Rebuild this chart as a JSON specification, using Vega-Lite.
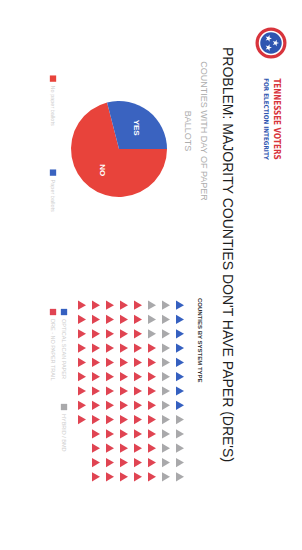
{
  "$schema": "https://vega.github.io/schema/vega-lite/v6.json",
  "background": "#ffffff",
  "padding": {"left": 46, "top": 8, "right": 10, "bottom": 60},
  "config": {"view": {"stroke": null}, "font": "Liberation Sans"},
  "spacing": 20,
  "hconcat": [
    {
      "spacing": 8,
      "title": {"text": "PROBLEM: MAJORITY COUNTIES DON'T HAVE PAPER (DRE'S)", "orient": "right", "anchor": "start", "fontSize": 14, "fontWeight": "normal", "color": "#1e1e1e", "offset": 12, "dx": 39},
      "vconcat": [
        {
          "spacing": 10,
          "hconcat": [
            {
              "width": 14,
              "height": 282,
              "data": {"values": [
                {"label": "No paper ballots", "answer": "NO", "slot": 1},
                {"label": "Paper ballots", "answer": "YES", "slot": 2}
              ]},
              "encoding": {
                "y": {"field": "slot", "type": "ordinal", "scale": {"type": "point", "padding": 1.5435, "align": 0.3756}, "axis": null}
              },
              "layer": [
                {"mark": {"type": "square", "size": 40, "opacity": 1},
                 "encoding": {"color": {"field": "answer", "type": "nominal", "scale": {"domain": ["NO", "YES", "Optical", "Hybrid", "DRE", "name", "tagline"], "range": ["#e8433b", "#3a63c0", "#3560c0", "#a9a9ab", "#e04452", "#d8343c", "#3056b0"]}, "legend": null}}},
                {"mark": {"type": "text", "angle": 90, "align": "left", "baseline": "middle", "dx": 7, "fontSize": 5.5, "color": "#cdcdcd"},
                 "encoding": {"text": {"field": "label"}}}
              ]
            },
            {
              "width": 98,
              "height": 282,
              "title": {"text": ["COUNTIES WITH DAY OF PAPER", "BALLOTS"], "orient": "right", "anchor": "middle", "align": "center", "fontSize": 9, "fontWeight": "normal", "color": "#adadad", "lineHeight": 16, "offset": 15, "dx": -18},
              "data": {"values": [
                {"answer": "NO", "counties": 71},
                {"answer": "YES", "counties": 29}
              ]},
              "encoding": {
                "theta": {"field": "counties", "type": "quantitative", "stack": true, "scale": {"range": [1.5708, 7.854]}},
                "order": {"field": "answer", "type": "ordinal"}
              },
              "layer": [
                {"mark": {"type": "arc", "outerRadius": 48},
                 "encoding": {"color": {"field": "answer", "type": "nominal", "scale": {"domain": ["NO", "YES", "Optical", "Hybrid", "DRE", "name", "tagline"], "range": ["#e8433b", "#3a63c0", "#3560c0", "#a9a9ab", "#e04452", "#d8343c", "#3056b0"]}, "legend": null}}},
                {"mark": {"type": "text", "radius": 27, "angle": 90, "fontSize": 8, "fontWeight": "bold", "align": "center", "baseline": "middle"},
                 "encoding": {"text": {"field": "answer"}, "color": {"value": "#ffffff"}}}
              ]
            }
          ]
        },
        {
          "spacing": 0,
          "hconcat": [
            {
              "width": 29,
              "height": 186,
              "data": {"values": [
                {"label": "DRE - NO PAPER TRAIL", "type": "DRE", "line": 2, "slot": 1},
                {"label": "OPTICAL SCAN PAPER", "type": "Optical", "line": 1, "slot": 1},
                {"label": "HYBRID / BMD", "type": "Hybrid", "line": 1, "slot": 2}
              ]},
              "encoding": {
                "x": {"field": "line", "type": "ordinal", "sort": "descending", "scale": {"type": "point", "padding": 0.818, "align": 0.389}, "axis": null},
                "y": {"field": "slot", "type": "ordinal", "scale": {"type": "point", "padding": 0.479, "align": 0.154}, "axis": null}
              },
              "layer": [
                {"mark": {"type": "square", "size": 40, "opacity": 1},
                 "encoding": {"color": {"field": "type", "type": "nominal", "scale": {"domain": ["NO", "YES", "Optical", "Hybrid", "DRE", "name", "tagline"], "range": ["#e8433b", "#3a63c0", "#3560c0", "#a9a9ab", "#e04452", "#d8343c", "#3056b0"]}, "legend": null}}},
                {"mark": {"type": "text", "angle": 90, "align": "left", "baseline": "middle", "dx": 7, "fontSize": 5.5, "color": "#cdcdcd"},
                 "encoding": {"text": {"field": "label"}}}
              ]
            },
            {
              "width": 112,
              "height": 186,
              "title": {"text": "COUNTIES BY SYSTEM TYPE", "orient": "right", "anchor": "start", "fontSize": 6, "fontWeight": "bold", "color": "#333333", "offset": 10},
              "data": {"values": [
                {"r":1,"c":1,"t":"Optical"},{"r":1,"c":2,"t":"Optical"},{"r":1,"c":3,"t":"Optical"},{"r":1,"c":4,"t":"Optical"},{"r":1,"c":5,"t":"Optical"},{"r":1,"c":6,"t":"Optical"},{"r":1,"c":7,"t":"Optical"},{"r":1,"c":8,"t":"Optical"},{"r":1,"c":9,"t":"Hybrid"},{"r":1,"c":10,"t":"Hybrid"},{"r":1,"c":11,"t":"Hybrid"},{"r":1,"c":12,"t":"Hybrid"},{"r":1,"c":13,"t":"Hybrid"},
                {"r":2,"c":1,"t":"Hybrid"},{"r":2,"c":2,"t":"Hybrid"},{"r":2,"c":3,"t":"Hybrid"},{"r":2,"c":4,"t":"Hybrid"},{"r":2,"c":5,"t":"Hybrid"},{"r":2,"c":6,"t":"Hybrid"},{"r":2,"c":7,"t":"Hybrid"},{"r":2,"c":8,"t":"Hybrid"},{"r":2,"c":9,"t":"Hybrid"},{"r":2,"c":10,"t":"Hybrid"},{"r":2,"c":11,"t":"Hybrid"},{"r":2,"c":12,"t":"Hybrid"},{"r":2,"c":13,"t":"Hybrid"},
                {"r":3,"c":1,"t":"Hybrid"},{"r":3,"c":2,"t":"Hybrid"},{"r":3,"c":3,"t":"Hybrid"},{"r":3,"c":4,"t":"DRE"},{"r":3,"c":5,"t":"DRE"},{"r":3,"c":6,"t":"DRE"},{"r":3,"c":7,"t":"DRE"},{"r":3,"c":8,"t":"DRE"},{"r":3,"c":9,"t":"DRE"},{"r":3,"c":10,"t":"DRE"},{"r":3,"c":11,"t":"DRE"},{"r":3,"c":12,"t":"DRE"},{"r":3,"c":13,"t":"DRE"},
                {"r":4,"c":1,"t":"DRE"},{"r":4,"c":2,"t":"DRE"},{"r":4,"c":3,"t":"DRE"},{"r":4,"c":4,"t":"DRE"},{"r":4,"c":5,"t":"DRE"},{"r":4,"c":6,"t":"DRE"},{"r":4,"c":7,"t":"DRE"},{"r":4,"c":8,"t":"DRE"},{"r":4,"c":9,"t":"DRE"},{"r":4,"c":10,"t":"DRE"},{"r":4,"c":11,"t":"DRE"},{"r":4,"c":12,"t":"DRE"},{"r":4,"c":13,"t":"DRE"},
                {"r":5,"c":1,"t":"DRE"},{"r":5,"c":2,"t":"DRE"},{"r":5,"c":3,"t":"DRE"},{"r":5,"c":4,"t":"DRE"},{"r":5,"c":5,"t":"DRE"},{"r":5,"c":6,"t":"DRE"},{"r":5,"c":7,"t":"DRE"},{"r":5,"c":8,"t":"DRE"},{"r":5,"c":9,"t":"DRE"},{"r":5,"c":10,"t":"DRE"},{"r":5,"c":11,"t":"DRE"},{"r":5,"c":12,"t":"DRE"},{"r":5,"c":13,"t":"DRE"},
                {"r":6,"c":1,"t":"DRE"},{"r":6,"c":2,"t":"DRE"},{"r":6,"c":3,"t":"DRE"},{"r":6,"c":4,"t":"DRE"},{"r":6,"c":5,"t":"DRE"},{"r":6,"c":6,"t":"DRE"},{"r":6,"c":7,"t":"DRE"},{"r":6,"c":8,"t":"DRE"},{"r":6,"c":9,"t":"DRE"},{"r":6,"c":10,"t":"DRE"},{"r":6,"c":11,"t":"DRE"},{"r":6,"c":12,"t":"DRE"},{"r":6,"c":13,"t":"DRE"},
                {"r":7,"c":1,"t":"DRE"},{"r":7,"c":2,"t":"DRE"},{"r":7,"c":3,"t":"DRE"},{"r":7,"c":4,"t":"DRE"},{"r":7,"c":5,"t":"DRE"},{"r":7,"c":6,"t":"DRE"},{"r":7,"c":7,"t":"DRE"},{"r":7,"c":8,"t":"DRE"},{"r":7,"c":9,"t":"DRE"},{"r":7,"c":10,"t":"DRE"},{"r":7,"c":11,"t":"DRE"},{"r":7,"c":12,"t":"DRE"},{"r":7,"c":13,"t":"DRE"},
                {"r":8,"c":1,"t":"DRE"},{"r":8,"c":2,"t":"DRE"},{"r":8,"c":3,"t":"DRE"},{"r":8,"c":4,"t":"DRE"},{"r":8,"c":5,"t":"DRE"},{"r":8,"c":6,"t":"DRE"},{"r":8,"c":7,"t":"DRE"},{"r":8,"c":8,"t":"DRE"},{"r":8,"c":9,"t":"DRE"}
              ]},
              "mark": {"type": "point", "shape": "triangle-right", "filled": true, "size": 85, "opacity": 1},
              "encoding": {
                "x": {"field": "r", "type": "ordinal", "sort": "descending", "axis": null},
                "y": {"field": "c", "type": "ordinal", "axis": null},
                "color": {"field": "t", "type": "nominal", "scale": {"domain": ["NO", "YES", "Optical", "Hybrid", "DRE", "name", "tagline"], "range": ["#e8433b", "#3a63c0", "#3560c0", "#a9a9ab", "#e04452", "#d8343c", "#3056b0"]}, "legend": null}
              }
            }
          ]
        }
      ]
    },
    {
      "spacing": 0,
      "vconcat": [
        {
          "width": 30,
          "height": 70,
          "data": {"values": [{"logo": "Tennessee Voters for Election Integrity"}]},
          "layer": [
            {"mark": {"type": "point", "shape": "circle", "filled": true, "size": 961, "color": "#d8343c", "opacity": 1}, "encoding": {}},
            {"mark": {"type": "point", "shape": "circle", "filled": true, "size": 529, "color": "#2f55b0", "stroke": "#ffffff", "strokeWidth": 1.5, "opacity": 1}, "encoding": {}},
            {"mark": {"type": "point", "filled": true, "size": 529, "color": "#ffffff", "opacity": 1, "shape": "M0.7,0L0.497,0.071L0.493,0.285L0.363,0.114L0.157,0.176L0.28,0L0.157,-0.176L0.363,-0.114L0.493,-0.285L0.497,-0.071ZM0.08,-0.4L-0.123,-0.329L-0.127,-0.115L-0.257,-0.286L-0.463,-0.224L-0.34,-0.4L-0.463,-0.576L-0.257,-0.514L-0.127,-0.685L-0.123,-0.471ZM0.08,0.4L-0.123,0.471L-0.127,0.685L-0.257,0.514L-0.463,0.576L-0.34,0.4L-0.463,0.224L-0.257,0.286L-0.127,0.115L-0.123,0.329Z"}, "encoding": {}}
          ]
        },
        {
          "width": 30,
          "height": 44,
          "data": {"values": [
            {"part": "name", "text": "TENNESSEE VOTERS"},
            {"part": "tagline", "text": "FOR ELECTION INTEGRITY"}
          ]},
          "encoding": {
            "x": {"field": "part", "type": "nominal", "sort": ["tagline", "name"], "scale": {"type": "point", "padding": 1.167, "align": 0.5}, "axis": null},
            "text": {"field": "text"},
            "color": {"field": "part", "type": "nominal", "scale": {"domain": ["NO", "YES", "Optical", "Hybrid", "DRE", "name", "tagline"], "range": ["#e8433b", "#3a63c0", "#3560c0", "#a9a9ab", "#e04452", "#d8343c", "#3056b0"]}, "legend": null}
          },
          "layer": [
            {"transform": [{"filter": {"field": "part", "equal": "name"}}],
             "mark": {"type": "text", "angle": 90, "align": "center", "baseline": "middle", "fontSize": 8, "fontWeight": "bold", "font": "DejaVu Sans Condensed"}},
            {"transform": [{"filter": {"field": "part", "equal": "tagline"}}],
             "mark": {"type": "text", "angle": 90, "align": "center", "baseline": "middle", "fontSize": 6.3, "fontWeight": "bold", "font": "DejaVu Sans Condensed"}}
          ]
        }
      ]
    }
  ]
}
